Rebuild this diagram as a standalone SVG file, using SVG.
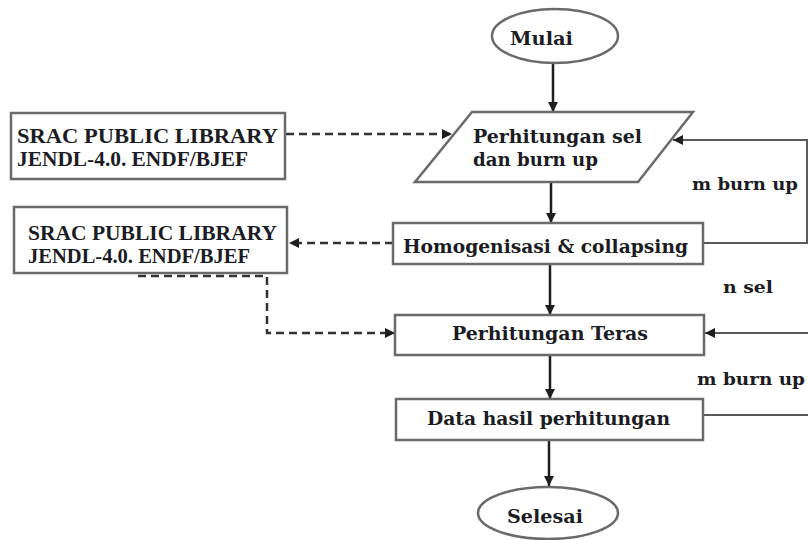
<svg xmlns="http://www.w3.org/2000/svg" width="808" height="540" viewBox="0 0 808 540">
  <defs>
    <marker id="ah" viewBox="0 0 10 10" refX="10" refY="5" markerWidth="4.4" markerHeight="4" orient="auto" markerUnits="strokeWidth">
      <path d="M0,0 L10,5 L0,10 z" fill="#1e1e1e"/>
    </marker>
    <marker id="ahs" viewBox="0 0 10 10" refX="10" refY="5" markerWidth="5.5" markerHeight="5" orient="auto" markerUnits="strokeWidth">
      <path d="M0,0 L10,5 L0,10 z" fill="#1e1e1e"/>
    </marker>
    <style>
      .box{fill:#fff;stroke:#6a6a6a;stroke-width:2.5}
      .t{font-weight:bold;fill:#1c1c24}
      .main{fill:none;stroke:#1e1e1e;stroke-width:2.5}
      .dash{fill:none;stroke:#333;stroke-width:2.5;stroke-dasharray:8 5}
      .loop{fill:none;stroke:#5a5a5a;stroke-width:2}
    </style>
  </defs>
  <rect width="808" height="540" fill="#fff"/>

  <g id="connectors">
    <line class="main" x1="553" y1="64" x2="553" y2="112" marker-end="url(#ah)"/>
    <line class="main" x1="551" y1="182" x2="551" y2="223" marker-end="url(#ah)"/>
    <line class="main" x1="550" y1="264" x2="550" y2="315" marker-end="url(#ah)"/>
    <line class="main" x1="550" y1="355" x2="550" y2="399" marker-end="url(#ah)"/>
    <line class="main" x1="549" y1="440" x2="549" y2="486" marker-end="url(#ah)"/>
    <path class="dash" d="M286,134 H452" marker-end="url(#ah)"/>
    <path class="dash" d="M393,243 H289" marker-end="url(#ah)"/>
    <path class="dash" d="M138,276 H267 V333 H395" marker-end="url(#ah)"/>
    <path class="loop" d="M703,243 H807 V140 H673" marker-end="url(#ahs)"/>
    <path class="loop" d="M703,415 H809 V333 H705" marker-end="url(#ahs)"/>
  </g>

  <g font-family="'Liberation Serif', 'Times New Roman', serif" font-size="21" font-weight="bold" fill="#1c1c24">
    <g id="lib1">
      <rect class="box" x="11" y="113" width="274" height="66"/>
      <text x="17" y="143" textLength="261" lengthAdjust="spacingAndGlyphs">SRAC PUBLIC LIBRARY</text>
      <text x="17" y="166" textLength="231" lengthAdjust="spacingAndGlyphs">JENDL-4.0. ENDF/BJEF</text>
    </g>
    <g id="lib2">
      <rect class="box" x="14" y="207" width="273" height="66"/>
      <text x="28" y="240" textLength="249" lengthAdjust="spacingAndGlyphs">SRAC PUBLIC LIBRARY</text>
      <text x="28" y="263" textLength="222" lengthAdjust="spacingAndGlyphs">JENDL-4.0. ENDF/BJEF</text>
    </g>
  </g>

  <g font-family="'DejaVu Serif', 'Liberation Serif', serif" font-weight="bold" fill="#1c1c24" font-size="18">
    <g id="mulai">
      <ellipse class="box" cx="555" cy="36" rx="63" ry="27"/>
      <text x="510" y="45" textLength="63" lengthAdjust="spacingAndGlyphs">Mulai</text>
    </g>
    <g id="perhitungan-sel">
      <polygon class="box" points="472,112 693,112 638,182 415,182"/>
      <text x="473" y="143" textLength="169" lengthAdjust="spacingAndGlyphs">Perhitungan sel</text>
      <text x="473" y="166" textLength="125" lengthAdjust="spacingAndGlyphs">dan burn up</text>
    </g>
    <g id="homogenisasi">
      <rect class="box" x="393" y="223" width="310" height="41"/>
      <text x="403" y="253" textLength="285" lengthAdjust="spacingAndGlyphs">Homogenisasi &amp; collapsing</text>
    </g>
    <g id="teras">
      <rect class="box" x="395" y="315" width="309" height="40"/>
      <text x="452" y="340" textLength="196" lengthAdjust="spacingAndGlyphs">Perhitungan Teras</text>
    </g>
    <g id="data">
      <rect class="box" x="396" y="399" width="307" height="41"/>
      <text x="427" y="425" textLength="243" lengthAdjust="spacingAndGlyphs">Data hasil perhitungan</text>
    </g>
    <g id="selesai">
      <ellipse class="box" cx="548" cy="513" rx="70" ry="26"/>
      <text x="507" y="523" textLength="76" lengthAdjust="spacingAndGlyphs">Selesai</text>
    </g>
    <g id="labels" font-size="16">
      <text x="692" y="190" textLength="106" lengthAdjust="spacingAndGlyphs">m burn up</text>
      <text x="723" y="293" textLength="50" lengthAdjust="spacingAndGlyphs">n sel</text>
      <text x="697" y="385" textLength="108" lengthAdjust="spacingAndGlyphs">m burn up</text>
    </g>
  </g>
</svg>
